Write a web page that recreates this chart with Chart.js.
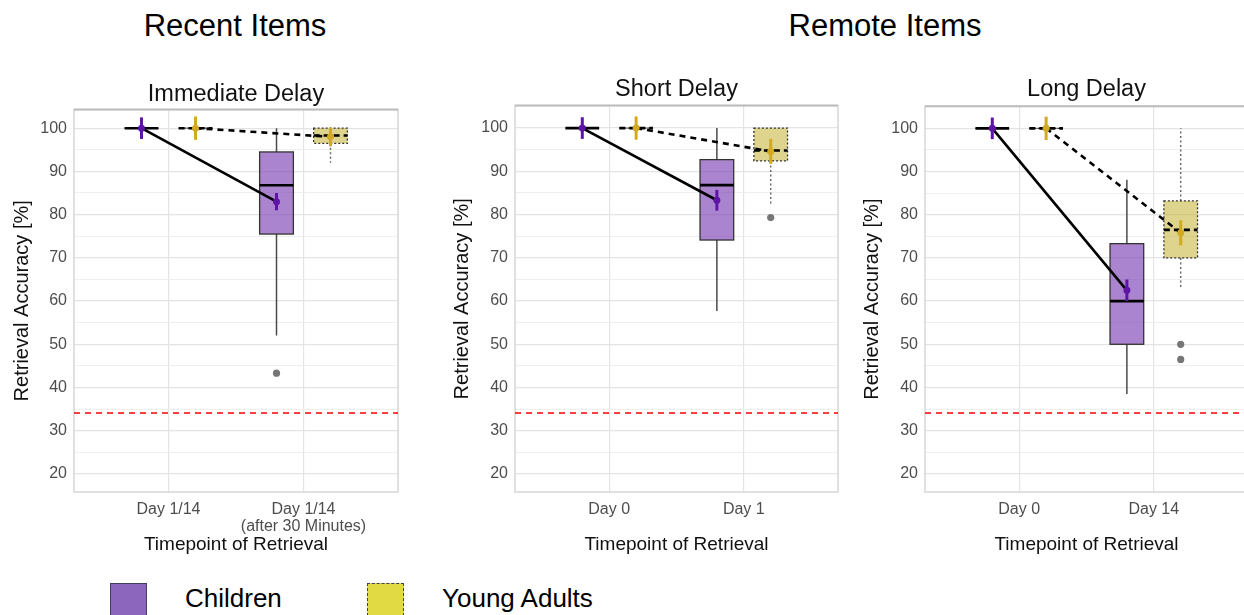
<!DOCTYPE html>
<html>
<head>
<meta charset="utf-8">
<script src="https://cdn.jsdelivr.net/npm/chart.js@4.4.1/dist/chart.umd.min.js"></script>
<style>
  html, body { margin: 0; padding: 0; background: #fff; overflow: hidden; }
  #fig { position: relative; width: 1244px; height: 615px; overflow: hidden;
         font-family: 'Liberation Sans', Arial, Helvetica, sans-serif; }
  #fig canvas { position: absolute; }
  .head { position: absolute; font-size: 31px; line-height: 32px; color: #000;
          transform: translateX(-50%); white-space: nowrap; }
  .key { position: absolute; width: 37px; height: 38px; box-sizing: border-box; }
  .key-label { position: absolute; font-size: 26px; line-height: 28px; color: #000; white-space: nowrap; }
</style>
</head>
<body>
<div id="fig">
  <div class="head" style="left:235px; top:10px;">Recent Items</div>
  <div class="head" style="left:885px; top:10px;">Remote Items</div>

  <canvas id="immediate" width="420" height="500" style="left:0px; top:60px;"></canvas>
  <canvas id="short" width="420" height="500" style="left:440px; top:60px;"></canvas>
  <canvas id="long" width="420" height="500" style="left:850px; top:60px;"></canvas>

  <div class="key" style="left:110px; top:583px; background:#8c65bd; border:1.5px solid #3f3f5e;"></div>
  <div class="key-label" style="left:185px; top:584px;">Children</div>
  <div class="key" style="left:367px; top:583px; background:#e1da42; border:1.5px dashed #3f3f5e;"></div>
  <div class="key-label" style="left:442px; top:584px;">Young Adults</div>
</div>

<script>
// ---- shared settings ----
const groupNames = ['Children', 'Young Adults'];
const chanceLevel = 34;
const yTicks = [20, 25, 30, 35, 40, 45, 50, 55, 60, 65, 70, 75, 80, 85, 90, 95, 100];

// ---- Immediate Delay (recent items) ----
// box rows: [lower whisker, Q1, median, Q3, upper whisker]
const immediateLabels = ['Day 1/14', ['Day 1/14', '(after 30 Minutes)']];
const immediateChildBox = [[100, 100, 100, 100, 100], [52, 75.5, 86.8, 94.5, 100]];
const immediateChildOutliers = [[], [43.3]];
const immediateChildMean = [100, 83.0];
const immediateChildErr = [2.5, 2.0];
const immediateAdultBox = [[100, 100, 100, 100, 100], [92, 96.5, 98.3, 100, 100]];
const immediateAdultOutliers = [[], []];
const immediateAdultMean = [100, 98.0];
const immediateAdultErr = [2.7, 2.2];

// ---- Short Delay (remote items) ----
const shortLabels = ['Day 0', 'Day 1'];
const shortChildBox = [[100, 100, 100, 100, 100], [57.7, 74.1, 86.8, 92.7, 100]];
const shortChildOutliers = [[], []];
const shortChildMean = [100, 83.3];
const shortChildErr = [2.5, 2.4];
const shortAdultBox = [[100, 100, 100, 100, 100], [82, 92.4, 94.8, 100, 100]];
const shortAdultOutliers = [[], [79.3]];
const shortAdultMean = [100, 94.6];
const shortAdultErr = [2.7, 2.9];

// ---- Long Delay (remote items) ----
const longLabels = ['Day 0', 'Day 14'];
const longChildBox = [[100, 100, 100, 100, 100], [38.5, 50, 60, 73.3, 88.1]];
const longChildOutliers = [[], []];
const longChildMean = [100, 62.5];
const longChildErr = [2.5, 2.5];
const longAdultBox = [[100, 100, 100, 100, 100], [62.7, 70, 76.5, 83.2, 100]];
const longAdultOutliers = [[], [50, 46.5]];
const longAdultMean = [100, 75.8];
const longAdultErr = [2.7, 2.9];

// ---- styling ----
const FONT = "'Liberation Sans', Arial, Helvetica, sans-serif";
const dodge = 0.2;      // horizontal offset of each group from its timepoint
const boxWidth = 0.25;  // in x-axis units

const childStyle = {
  offset: -dodge,
  fill: 'rgba(123, 62, 180, 0.64)',
  edge: '#333333', edgeDash: [],
  whisker: '#4a4a4a', whiskerDash: [],
  medianDash: [],
  meanColor: '#5f14a6'
};
const adultStyle = {
  offset: dodge,
  fill: 'rgba(196, 176, 50, 0.55)',
  edge: '#333333', edgeDash: [2, 2],
  whisker: '#6a6a6a', whiskerDash: [2, 2.5],
  medianDash: [6, 4],
  meanColor: '#d2aa22'
};

// draws panel frame, chance line and the box-and-whisker glyphs, then error bars
const boxPlotPlugin = {
  id: 'boxPlots',
  beforeDatasetsDraw(chart, args, opts) {
    const { ctx, chartArea: a } = chart;
    const xs = chart.scales.x, ys = chart.scales.y;
    ctx.save();
    // panel frame
    ctx.strokeStyle = '#d6d6d6';
    ctx.lineWidth = 1.5;
    ctx.strokeRect(a.left, a.top, a.right - a.left, a.bottom - a.top);
    ctx.strokeStyle = '#bdbdbd';
    ctx.lineWidth = 2;
    ctx.beginPath();
    ctx.moveTo(a.left, a.top); ctx.lineTo(a.right, a.top);
    ctx.stroke();

    ctx.beginPath();
    ctx.rect(a.left, a.top, a.right - a.left, a.bottom - a.top);
    ctx.clip();

    // chance level (snapped to the pixel grid so the dashes stay crisp)
    const yc = Math.round(ys.getPixelForValue(opts.chance));
    ctx.strokeStyle = '#ff0000';
    ctx.lineWidth = 1.6;
    ctx.setLineDash([6, 5]);
    ctx.beginPath();
    ctx.moveTo(a.left, yc); ctx.lineTo(a.right, yc);
    ctx.stroke();

    const halfW = (xs.getPixelForValue(boxWidth) - xs.getPixelForValue(0)) / 2;
    opts.groups.forEach(g => {
      const s = g.style;
      g.box.forEach((b, i) => {
        const cx = xs.getPixelForValue(i + 1 + s.offset);
        const [lo, q1, med, q3, hi] = b.map(v => ys.getPixelForValue(v));
        // whiskers
        ctx.strokeStyle = s.whisker;
        ctx.lineWidth = 1.5;
        ctx.setLineDash(s.whiskerDash);
        ctx.beginPath();
        ctx.moveTo(cx, q3); ctx.lineTo(cx, hi);
        ctx.moveTo(cx, q1); ctx.lineTo(cx, lo);
        ctx.stroke();
        // box body
        ctx.fillStyle = s.fill;
        ctx.fillRect(cx - halfW, q3, 2 * halfW, q1 - q3);
        ctx.strokeStyle = s.edge;
        ctx.lineWidth = 1.3;
        ctx.setLineDash(s.edgeDash);
        ctx.strokeRect(cx - halfW, q3, 2 * halfW, q1 - q3);
        // median
        ctx.strokeStyle = '#000';
        ctx.lineWidth = 2.6;
        ctx.setLineDash(s.medianDash);
        ctx.beginPath();
        ctx.moveTo(cx - halfW, med); ctx.lineTo(cx + halfW, med);
        ctx.stroke();
      });
    });
    ctx.restore();
  },
  afterDatasetsDraw(chart, args, opts) {
    const { ctx } = chart;
    const xs = chart.scales.x, ys = chart.scales.y;
    ctx.save();
    ctx.lineWidth = 3;
    ctx.setLineDash([]);
    opts.groups.forEach(g => {
      ctx.strokeStyle = g.style.meanColor;
      g.mean.forEach((m, i) => {
        const cx = xs.getPixelForValue(i + 1 + g.style.offset);
        ctx.beginPath();
        ctx.moveTo(cx, ys.getPixelForValue(m - g.err[i]));
        ctx.lineTo(cx, ys.getPixelForValue(m + g.err[i]));
        ctx.stroke();
      });
    });
    ctx.restore();
  }
};

function meanPoints(means, style) {
  return means.map((m, i) => ({ x: i + 1 + style.offset, y: m }));
}
function outlierPoints(outliers, style) {
  const pts = [];
  outliers.forEach((list, i) => list.forEach(v => pts.push({ x: i + 1 + style.offset, y: v })));
  return pts;
}

function buildPanel(id, p) {
  const groups = [
    { style: childStyle, box: p.childBox, mean: p.childMean, err: p.childErr },
    { style: adultStyle, box: p.adultBox, mean: p.adultMean, err: p.adultErr }
  ];
  return new Chart(document.getElementById(id), {
    type: 'scatter',
    data: {
      datasets: [
        { label: groupNames[0] + ' mean', data: meanPoints(p.childMean, childStyle),
          pointRadius: 3.5, pointBackgroundColor: childStyle.meanColor, pointBorderWidth: 0, showLine: false },
        { label: groupNames[1] + ' mean', data: meanPoints(p.adultMean, adultStyle),
          pointRadius: 3.5, pointBackgroundColor: adultStyle.meanColor, pointBorderWidth: 0, showLine: false },
        { label: groupNames[0], data: meanPoints(p.childMean, childStyle), showLine: true,
          borderColor: '#000', borderWidth: 2.6, pointRadius: 0 },
        { label: groupNames[1], data: meanPoints(p.adultMean, adultStyle), showLine: true,
          borderColor: '#000', borderWidth: 2.6, borderDash: [6, 5], pointRadius: 0 },
        { label: groupNames[0] + ' outliers', data: outlierPoints(p.childOutliers, childStyle),
          pointRadius: 3.6, pointBackgroundColor: '#767676', pointBorderWidth: 0 },
        { label: groupNames[1] + ' outliers', data: outlierPoints(p.adultOutliers, adultStyle),
          pointRadius: 3.6, pointBackgroundColor: '#767676', pointBorderWidth: 0 }
      ]
    },
    options: {
      responsive: false,
      animation: false,
      events: [],
      layout: { padding: { left: 0, right: 22, top: 0, bottom: 0 } },
      plugins: {
        legend: { display: false },
        tooltip: { enabled: false },
        title: {
          display: true, text: p.title, fullSize: false, color: '#111',
          font: { family: FONT, size: 23.5, weight: 'normal', lineHeight: 1.2 },
          padding: { top: p.titleTop, bottom: p.titleBottom }
        },
        boxPlots: { groups: groups, chance: chanceLevel }
      },
      scales: {
        x: {
          type: 'linear', min: 0.3, max: 2.7,
          afterBuildTicks: s => { s.ticks = p.labels.map((_, i) => ({ value: i + 1 })); },
          afterFit: s => { s.height = 68; },
          grid: { color: '#e4e4e4', lineWidth: 1.2, drawTicks: false },
          border: { display: false },
          ticks: {
            autoSkip: false, maxRotation: 0, padding: 8.5, color: '#4d4d4d',
            font: { family: FONT, size: 16, lineHeight: 1.1 },
            callback: v => p.labels[Math.round(v) - 1]
          },
          title: {
            display: true, text: 'Timepoint of Retrieval', color: '#111',
            font: { family: FONT, size: 19, lineHeight: 1.2 },
            padding: { top: 0, bottom: 3.6 }
          }
        },
        y: {
          type: 'linear', min: 15.8, max: p.yMax,
          afterBuildTicks: s => { s.ticks = yTicks.map(v => ({ value: v })); },
          afterFit: s => { s.width = p.yWidth; },
          grid: {
            drawTicks: false,
            color: c => (c.tick && c.tick.value % 10 === 0) ? '#e4e4e4' : '#efefef',
            lineWidth: c => (c.tick && c.tick.value % 10 === 0) ? 1.3 : 1
          },
          border: { display: false },
          ticks: {
            autoSkip: false, padding: 7, color: '#4d4d4d',
            font: { family: FONT, size: 16 },
            callback: v => (v % 10 === 0 ? String(v) : '')
          },
          title: {
            display: true, text: 'Retrieval Accuracy [%]', color: '#111',
            font: { family: FONT, size: 20, lineHeight: 1.2 },
            padding: { top: 10.5, bottom: 0 }
          }
        }
      }
    },
    plugins: [boxPlotPlugin]
  });
}

buildPanel('immediate', {
  title: 'Immediate Delay', titleTop: 20.2, titleBottom: 1.2, yWidth: 74, yMax: 104.3,
  labels: immediateLabels,
  childBox: immediateChildBox, childOutliers: immediateChildOutliers, childMean: immediateChildMean, childErr: immediateChildErr,
  adultBox: immediateAdultBox, adultOutliers: immediateAdultOutliers, adultMean: immediateAdultMean, adultErr: immediateAdultErr
});
buildPanel('short', {
  title: 'Short Delay', titleTop: 15.2, titleBottom: 2.2, yWidth: 75, yMax: 105.2,
  labels: shortLabels,
  childBox: shortChildBox, childOutliers: shortChildOutliers, childMean: shortChildMean, childErr: shortChildErr,
  adultBox: shortAdultBox, adultOutliers: shortAdultOutliers, adultMean: shortAdultMean, adultErr: shortAdultErr
});
buildPanel('long', {
  title: 'Long Delay', titleTop: 15.7, titleBottom: 2.4, yWidth: 75, yMax: 105.1,
  labels: longLabels,
  childBox: longChildBox, childOutliers: longChildOutliers, childMean: longChildMean, childErr: longChildErr,
  adultBox: longAdultBox, adultOutliers: longAdultOutliers, adultMean: longAdultMean, adultErr: longAdultErr
});
</script>
</body>
</html>
